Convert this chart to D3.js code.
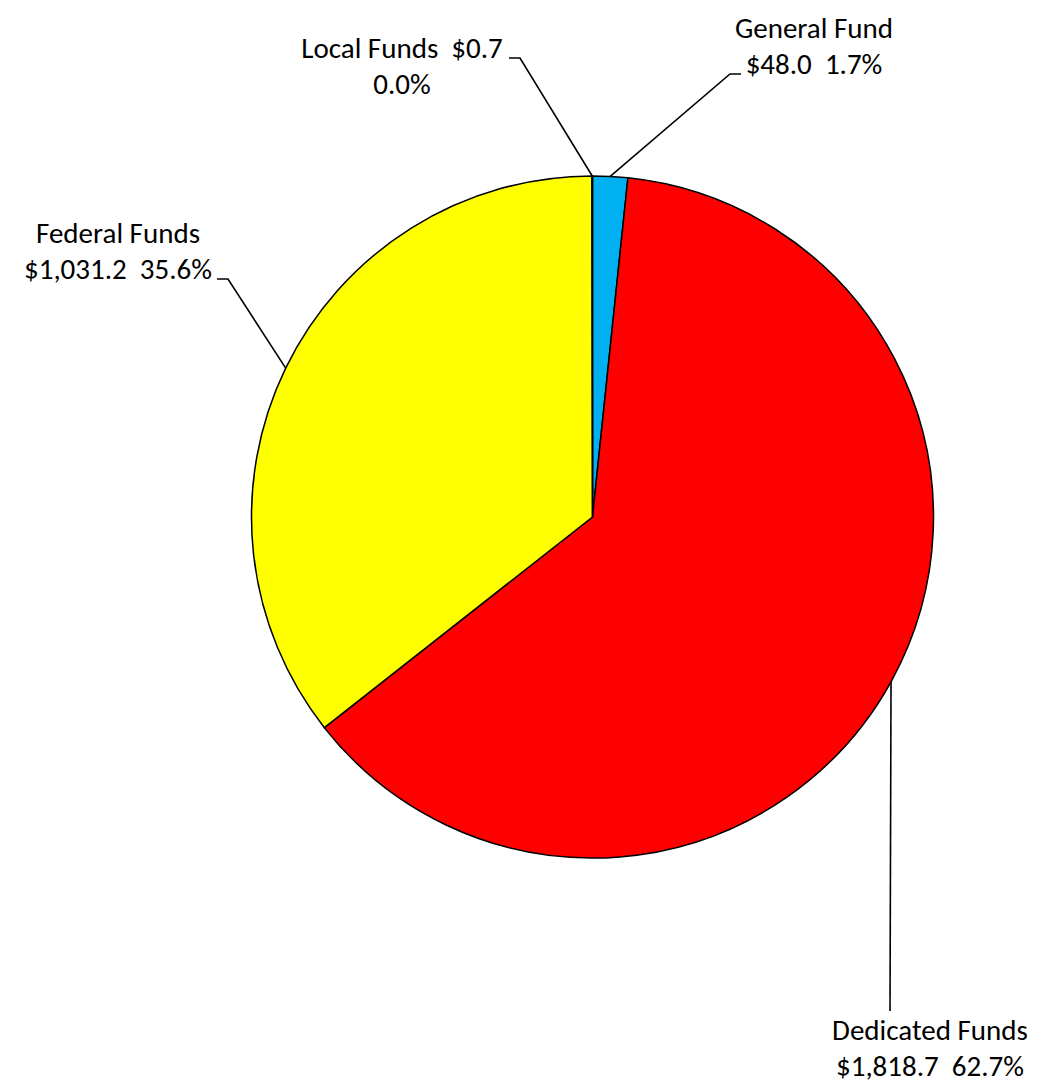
<!DOCTYPE html>
<html>
<head>
<meta charset="utf-8">
<script src="https://cdn.jsdelivr.net/npm/d3@7"></script>
<style>
  body { margin: 0; background: #fff; }
  svg text { font-family: Carlito, Calibri, Lato, "Noto Sans", sans-serif; font-size: 29px; fill: #000; }
</style>
</head>
<body>
<div id="chart"></div>
<script>
// values in $ millions, clockwise from 12 o'clock
var categories = ["General Fund", "Dedicated Funds", "Federal Funds", "Local Funds"];
var amounts = [48.0, 1818.7, 1031.2, 0.7];
var colors = ["#00B0F0", "#FF0000", "#FFFF00", "#FFFF00"];

// label placement (label centre, first baseline, leader elbow, short hook end)
var labelLayout = [
    {x: 814, y: 38, elbow: [730, 74], hook: [741, 74]},
    {x: 930, y: 1040, elbow: [890, 1011], hook: null},
    {x: 118, y: 243, elbow: [228, 279], hook: [217, 279]},
    {x: 402, y: 58, elbow: [520, 58], hook: [509, 58]}
];

var width = 1045, height = 1086;
var cx = 592.5, cy = 517, radius = 341;

var svg = d3.select("#chart").append("svg")
    .attr("width", width)
    .attr("height", height);

var total = d3.sum(amounts);
var fmtMoney = d3.format("$,.1f");
var fmtPct = d3.format(".1%");

var data = categories.map(function(c, i) {
    return {name: c, value: amounts[i], color: colors[i], layout: labelLayout[i]};
});

var pie = d3.pie()
    .sort(null)
    .value(function(d) { return d.value; });

var arc = d3.arc().innerRadius(0).outerRadius(radius);
var edge = d3.arc().innerRadius(radius).outerRadius(radius);

var g = svg.append("g").attr("transform", "translate(" + cx + "," + cy + ")");

var arcs = pie(data);

g.selectAll("path.slice")
    .data(arcs)
    .enter().append("path")
    .attr("class", "slice")
    .attr("d", arc)
    .style("fill", function(d) { return d.data.color; })
    .style("stroke", "#000")
    .style("stroke-width", 1.5)
    .style("stroke-linejoin", "round");

// leader lines from the slice's outer midpoint
svg.selectAll("polyline.leader")
    .data(arcs)
    .enter().append("polyline")
    .attr("class", "leader")
    .attr("points", function(d) {
        var p = edge.centroid(d);
        var pts = [[cx + p[0], cy + p[1]], d.data.layout.elbow];
        if (d.data.layout.hook) pts.push(d.data.layout.hook);
        return pts.map(function(q) { return q.join(","); }).join(" ");
    })
    .style("fill", "none")
    .style("stroke", "#000")
    .style("stroke-width", 1.6);

// labels
function labelLines(d) {
    var money = fmtMoney(d.data.value), pct = fmtPct(d.data.value / total);
    if (d.data.name === "Local Funds") return [d.data.name + "  " + money, pct];
    return [d.data.name, money + "  " + pct];
}

var labels = svg.selectAll("text.label")
    .data(arcs)
    .enter().append("text")
    .attr("class", "label")
    .attr("text-anchor", "middle")
    .attr("x", function(d) { return d.data.layout.x; })
    .attr("y", function(d) { return d.data.layout.y; })
    .style("white-space", "pre");

labels.selectAll("tspan")
    .data(function(d) { return labelLines(d).map(function(t) { return {t: t, x: d.data.layout.x}; }); })
    .enter().append("tspan")
    .attr("x", function(d) { return d.x; })
    .attr("dy", function(d, i) { return i === 0 ? 0 : 36; })
    .text(function(d) { return d.t; });
</script>
</body>
</html>
